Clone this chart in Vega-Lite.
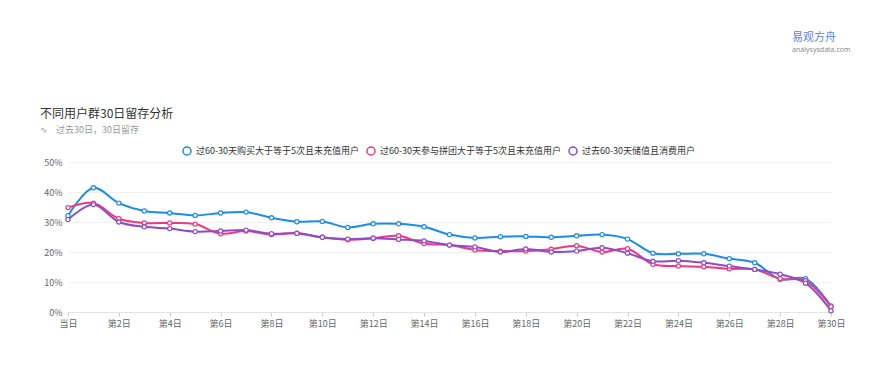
{
  "$schema": "https://vega.github.io/schema/vega-lite/v6.json",
  "background": "white",
  "padding": {"left": 5, "top": 32, "right": 5, "bottom": 5},
  "title": {"text": "易观方舟", "subtitle": "analysysdata.com", "anchor": "start", "frame": "group", "dx": 724, "fontSize": 11, "fontWeight": "normal", "color": "#5b82f0", "subtitleFontSize": 7, "subtitleColor": "#8c8c8c", "subtitlePadding": 3, "offset": 55, "subtitleFont": "Noto Sans"},
  "config": {
    "font": "Noto Sans CJK SC",
    "view": {"stroke": null}
  },
  "vconcat": [
    {
      "width": 763,
      "height": 150,
      "title": {"text": "不同用户群30日留存分析", "subtitle": "∿\u00a0\u00a0\u00a0\u00a0过去30日，30日留存", "anchor": "start", "frame": "group", "dx": -28, "fontSize": 12, "fontWeight": "normal", "color": "#333333", "subtitleFontSize": 9, "subtitleColor": "#999999", "subtitlePadding": 5, "offset": 22},
      "data": {"values": [
        {"day": "当日", "series": "过60-30天购买大于等于5次且未充值用户", "value": 32.1},
        {"day": "第1日", "series": "过60-30天购买大于等于5次且未充值用户", "value": 41.4},
        {"day": "第2日", "series": "过60-30天购买大于等于5次且未充值用户", "value": 36.3},
        {"day": "第3日", "series": "过60-30天购买大于等于5次且未充值用户", "value": 33.7},
        {"day": "第4日", "series": "过60-30天购买大于等于5次且未充值用户", "value": 33.0},
        {"day": "第5日", "series": "过60-30天购买大于等于5次且未充值用户", "value": 32.2},
        {"day": "第6日", "series": "过60-30天购买大于等于5次且未充值用户", "value": 33.0},
        {"day": "第7日", "series": "过60-30天购买大于等于5次且未充值用户", "value": 33.3},
        {"day": "第8日", "series": "过60-30天购买大于等于5次且未充值用户", "value": 31.4},
        {"day": "第9日", "series": "过60-30天购买大于等于5次且未充值用户", "value": 30.1},
        {"day": "第10日", "series": "过60-30天购买大于等于5次且未充值用户", "value": 30.2},
        {"day": "第11日", "series": "过60-30天购买大于等于5次且未充值用户", "value": 28.2},
        {"day": "第12日", "series": "过60-30天购买大于等于5次且未充值用户", "value": 29.4},
        {"day": "第13日", "series": "过60-30天购买大于等于5次且未充值用户", "value": 29.4},
        {"day": "第14日", "series": "过60-30天购买大于等于5次且未充值用户", "value": 28.4},
        {"day": "第15日", "series": "过60-30天购买大于等于5次且未充值用户", "value": 25.8},
        {"day": "第16日", "series": "过60-30天购买大于等于5次且未充值用户", "value": 24.7},
        {"day": "第17日", "series": "过60-30天购买大于等于5次且未充值用户", "value": 25.1},
        {"day": "第18日", "series": "过60-30天购买大于等于5次且未充值用户", "value": 25.2},
        {"day": "第19日", "series": "过60-30天购买大于等于5次且未充值用户", "value": 24.9},
        {"day": "第20日", "series": "过60-30天购买大于等于5次且未充值用户", "value": 25.4},
        {"day": "第21日", "series": "过60-30天购买大于等于5次且未充值用户", "value": 25.8},
        {"day": "第22日", "series": "过60-30天购买大于等于5次且未充值用户", "value": 24.3},
        {"day": "第23日", "series": "过60-30天购买大于等于5次且未充值用户", "value": 19.6},
        {"day": "第24日", "series": "过60-30天购买大于等于5次且未充值用户", "value": 19.4},
        {"day": "第25日", "series": "过60-30天购买大于等于5次且未充值用户", "value": 19.4},
        {"day": "第26日", "series": "过60-30天购买大于等于5次且未充值用户", "value": 17.8},
        {"day": "第27日", "series": "过60-30天购买大于等于5次且未充值用户", "value": 16.4},
        {"day": "第28日", "series": "过60-30天购买大于等于5次且未充值用户", "value": 10.9},
        {"day": "第29日", "series": "过60-30天购买大于等于5次且未充值用户", "value": 11.1},
        {"day": "第30日", "series": "过60-30天购买大于等于5次且未充值用户", "value": 2.0},
        {"day": "当日", "series": "过60-30天参与拼团大于等于5次且未充值用户", "value": 34.8},
        {"day": "第1日", "series": "过60-30天参与拼团大于等于5次且未充值用户", "value": 36.3},
        {"day": "第2日", "series": "过60-30天参与拼团大于等于5次且未充值用户", "value": 31.1},
        {"day": "第3日", "series": "过60-30天参与拼团大于等于5次且未充值用户", "value": 29.7},
        {"day": "第4日", "series": "过60-30天参与拼团大于等于5次且未充值用户", "value": 29.7},
        {"day": "第5日", "series": "过60-30天参与拼团大于等于5次且未充值用户", "value": 29.3},
        {"day": "第6日", "series": "过60-30天参与拼团大于等于5次且未充值用户", "value": 26.1},
        {"day": "第7日", "series": "过60-30天参与拼团大于等于5次且未充值用户", "value": 27.0},
        {"day": "第8日", "series": "过60-30天参与拼团大于等于5次且未充值用户", "value": 25.8},
        {"day": "第9日", "series": "过60-30天参与拼团大于等于5次且未充值用户", "value": 26.3},
        {"day": "第10日", "series": "过60-30天参与拼团大于等于5次且未充值用户", "value": 24.9},
        {"day": "第11日", "series": "过60-30天参与拼团大于等于5次且未充值用户", "value": 24.1},
        {"day": "第12日", "series": "过60-30天参与拼团大于等于5次且未充值用户", "value": 24.6},
        {"day": "第13日", "series": "过60-30天参与拼团大于等于5次且未充值用户", "value": 25.4},
        {"day": "第14日", "series": "过60-30天参与拼团大于等于5次且未充值用户", "value": 22.8},
        {"day": "第15日", "series": "过60-30天参与拼团大于等于5次且未充值用户", "value": 22.3},
        {"day": "第16日", "series": "过60-30天参与拼团大于等于5次且未充值用户", "value": 20.7},
        {"day": "第17日", "series": "过60-30天参与拼团大于等于5次且未充值用户", "value": 20.3},
        {"day": "第18日", "series": "过60-30天参与拼团大于等于5次且未充值用户", "value": 20.3},
        {"day": "第19日", "series": "过60-30天参与拼团大于等于5次且未充值用户", "value": 20.9},
        {"day": "第20日", "series": "过60-30天参与拼团大于等于5次且未充值用户", "value": 22.1},
        {"day": "第21日", "series": "过60-30天参与拼团大于等于5次且未充值用户", "value": 20.0},
        {"day": "第22日", "series": "过60-30天参与拼团大于等于5次且未充值用户", "value": 21.1},
        {"day": "第23日", "series": "过60-30天参与拼团大于等于5次且未充值用户", "value": 15.9},
        {"day": "第24日", "series": "过60-30天参与拼团大于等于5次且未充值用户", "value": 15.3},
        {"day": "第25日", "series": "过60-30天参与拼团大于等于5次且未充值用户", "value": 15.1},
        {"day": "第26日", "series": "过60-30天参与拼团大于等于5次且未充值用户", "value": 14.4},
        {"day": "第27日", "series": "过60-30天参与拼团大于等于5次且未充值用户", "value": 14.2},
        {"day": "第28日", "series": "过60-30天参与拼团大于等于5次且未充值用户", "value": 11.1},
        {"day": "第29日", "series": "过60-30天参与拼团大于等于5次且未充值用户", "value": 10.4},
        {"day": "第30日", "series": "过60-30天参与拼团大于等于5次且未充值用户", "value": 1.8},
        {"day": "当日", "series": "过去60-30天储值且消费用户", "value": 30.8},
        {"day": "第1日", "series": "过去60-30天储值且消费用户", "value": 35.8},
        {"day": "第2日", "series": "过去60-30天储值且消费用户", "value": 30.0},
        {"day": "第3日", "series": "过去60-30天储值且消费用户", "value": 28.4},
        {"day": "第4日", "series": "过去60-30天储值且消费用户", "value": 27.8},
        {"day": "第5日", "series": "过去60-30天储值且消费用户", "value": 26.8},
        {"day": "第6日", "series": "过去60-30天储值且消费用户", "value": 27.0},
        {"day": "第7日", "series": "过去60-30天储值且消费用户", "value": 27.3},
        {"day": "第8日", "series": "过去60-30天储值且消费用户", "value": 26.1},
        {"day": "第9日", "series": "过去60-30天储值且消费用户", "value": 26.2},
        {"day": "第10日", "series": "过去60-30天储值且消费用户", "value": 24.9},
        {"day": "第11日", "series": "过去60-30天储值且消费用户", "value": 24.3},
        {"day": "第12日", "series": "过去60-30天储值且消费用户", "value": 24.6},
        {"day": "第13日", "series": "过去60-30天储值且消费用户", "value": 24.2},
        {"day": "第14日", "series": "过去60-30天储值且消费用户", "value": 23.7},
        {"day": "第15日", "series": "过去60-30天储值且消费用户", "value": 22.3},
        {"day": "第16日", "series": "过去60-30天储值且消费用户", "value": 21.7},
        {"day": "第17日", "series": "过去60-30天储值且消费用户", "value": 20.0},
        {"day": "第18日", "series": "过去60-30天储值且消费用户", "value": 21.0},
        {"day": "第19日", "series": "过去60-30天储值且消费用户", "value": 20.0},
        {"day": "第20日", "series": "过去60-30天储值且消费用户", "value": 20.3},
        {"day": "第21日", "series": "过去60-30天储值且消费用户", "value": 21.4},
        {"day": "第22日", "series": "过去60-30天储值且消费用户", "value": 19.6},
        {"day": "第23日", "series": "过去60-30天储值且消费用户", "value": 16.9},
        {"day": "第24日", "series": "过去60-30天储值且消费用户", "value": 17.1},
        {"day": "第25日", "series": "过去60-30天储值且消费用户", "value": 16.4},
        {"day": "第26日", "series": "过去60-30天储值且消费用户", "value": 15.3},
        {"day": "第27日", "series": "过去60-30天储值且消费用户", "value": 14.2},
        {"day": "第28日", "series": "过去60-30天储值且消费用户", "value": 12.6},
        {"day": "第29日", "series": "过去60-30天储值且消费用户", "value": 9.6},
        {"day": "第30日", "series": "过去60-30天储值且消费用户", "value": 0.4}
      ]},
      "encoding": {
        "x": {"field": "day", "type": "ordinal", "sort": null, "scale": {"type": "point", "padding": 0},
          "axis": {"values": ["当日", "第2日", "第4日", "第6日", "第8日", "第10日", "第12日", "第14日", "第16日", "第18日", "第20日", "第22日", "第24日", "第26日", "第28日", "第30日"],
            "title": null, "labelAngle": 0, "labelFontSize": 9, "labelColor": "#666666", "tickColor": "#cccccc", "tickSize": 4, "domainColor": "#e3e3e3", "grid": false, "labelPadding": 3}},
        "y": {"field": "value", "type": "quantitative", "scale": {"domain": [0, 50]},
          "axis": {"values": [0, 10, 20, 30, 40, 50], "labelExpr": "datum.value + '%'", "title": null, "domain": false, "ticks": false, "gridColor": "#f0f0f0", "labelFontSize": 9, "labelColor": "#666666", "labelPadding": 6, "minExtent": 63}},
        "color": {"field": "series", "type": "nominal",
          "sort": ["过60-30天购买大于等于5次且未充值用户", "过60-30天参与拼团大于等于5次且未充值用户", "过去60-30天储值且消费用户"],
          "scale": {"domain": ["过60-30天购买大于等于5次且未充值用户", "过60-30天参与拼团大于等于5次且未充值用户", "过去60-30天储值且消费用户"], "range": ["#1a8cea", "#f0387f", "#8e4cc6"]},
          "legend": {"orient": "none", "legendX": 114, "legendY": -16, "direction": "horizontal", "title": null, "symbolType": "circle", "symbolSize": 64, "symbolStrokeWidth": 1.5, "symbolFillColor": "white", "labelFontSize": 9, "labelColor": "#333333", "labelLimit": 400, "columnPadding": 4, "labelOffset": 4}}
      },
      "layer": [
        {"mark": {"type": "line", "interpolate": "catmull-rom", "strokeWidth": 2}},
        {"mark": {"type": "point", "filled": false, "fill": "white", "size": 18, "strokeWidth": 1.2, "opacity": 1}}
      ]
    }
  ]
}
